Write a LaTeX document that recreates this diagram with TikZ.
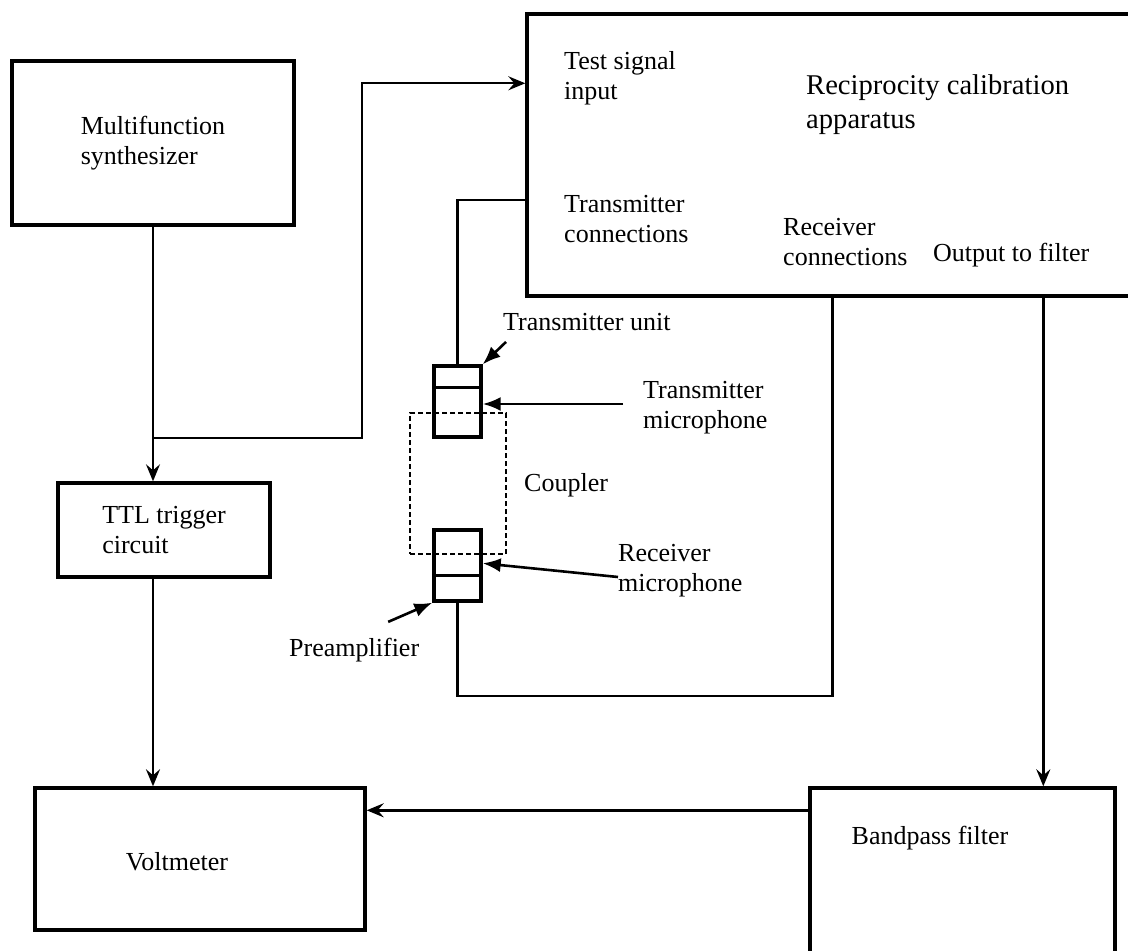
\documentclass[tikz,border=0pt]{standalone}
\usepackage{fontspec}
\setmainfont{Liberation Serif}
\usetikzlibrary{positioning, calc, arrows.meta}

\begin{document}
\begin{tikzpicture}[x=0.5pt, y=-0.5pt, line width=1.2pt, >={Stealth[length=8.5pt, width=7pt, inset=3pt]}, font=\fontsize{13}{15}\selectfont]
        % Define block styles
        \tikzstyle{block} = [rectangle, draw, line width=1.7pt, inner sep=0pt, align=left]
        \tikzstyle{unit} = [rectangle, draw, line width=1.7pt, minimum width=23.5pt, minimum height=35.5pt, inner sep=0pt]
        \tikzstyle{tag} = [inner sep=0pt, align=left, anchor=west]
        \tikzstyle{pointer} = [-{Latex[length=9pt, width=7pt]}, line width=1.3pt]

        \useasboundingbox (0,0) rectangle (1128,951);
        \clip (0,0) rectangle (1128,951);

        % Place nodes
        \node [block, minimum width=141pt, minimum height=82pt] (mfs) at (153,143) {Multifunction\\synthesizer};
        \node [block, minimum width=106pt, minimum height=47pt] (ttl) at (164,530) {TTL trigger\\circuit};
        \node [block, minimum width=165pt, minimum height=71pt, label={[xshift=-11.5pt, yshift=-1.5pt]center:Voltmeter}] (volt) at (200,859) {};
        \node [block, minimum width=306.5pt, minimum height=141pt] (rca) at (833.5,155) {};
        \node [block, minimum width=152.5pt, minimum height=91pt, label={[xshift=-16.25pt, yshift=20.5pt]center:Bandpass filter}] (bpf) at (962.5,879) {};

        % Transducers and coupler
        \node [draw, dashed, dash pattern=on 2.5pt off 1.5pt, line width=0.7pt, minimum width=48pt, minimum height=70.5pt] (coupler) at (458,483.5) {};
        \node [unit] (tunit) at (457.5,401.5) {};
        \node [unit] (runit) at (457.5,565.5) {};
        \draw [line width=1.7pt] ($(tunit.north west)+(0,23)$) -- ($(tunit.north east)+(0,23)$);
        \draw [line width=1.7pt] ($(runit.north west)+(0,47)$) -- ($(runit.north east)+(0,47)$);

        % Texts inside the apparatus
        \node [tag] (testsig) at (563,78) {Test signal\\input};
        \node [tag, font=\fontsize{14.3}{17}\selectfont] (title) at (805,105) {Reciprocity calibration\\apparatus};
        \node [tag] (txconn) at (563,219.5) {Transmitter\\connections};
        \node [tag] (rxconn) at (782,242.5) {Receiver\\connections};
        \node [tag] (outfilt) at (932,255) {Output to filter};

        % Labels round the coupler
        \node [tag] (tulabel) at (502,322) {Transmitter unit};
        \node [tag] (tmlabel) at (642,408) {Transmitter\\microphone};
        \node [tag] (cplabel) at (523,485) {Coupler};
        \node [tag] (rmlabel) at (617,571) {Receiver\\microphone};
        \node [tag] (palabel) at (288,650) {Preamplifier};

        % Ports on the apparatus
        \coordinate (testin) at ($(rca.north west)+(0,71)$);
        \coordinate (txport) at ($(rca.north west)+(0,188)$);
        \coordinate (rxport) at ($(rca.south west)+(307,0)$);
        \coordinate (outport) at ($(rca.south west)+(518,0)$);
        \coordinate (split) at ($(mfs.south)+(0,211)$);
        \coordinate (bpfout) at ($(bpf.north west)+(0,24)$);

        % Draw connections as arrows
        \draw [->, line width=0.7pt] (mfs.south) -- (mfs.south |- ttl.north);
        \draw [->, line width=1pt] (split) -| ($(testin)+(-163,0)$) -- (testin);
        \draw [->] (ttl.south -| split) -- (split |- volt.north);
        \draw [->] (outport) -- (outport |- bpf.north);
        \draw [->] (bpfout) -- (bpfout -| volt.east);
        \draw (txport) -| (tunit.north);
        \draw (runit.south) |- ($(rxport)+(0,398)$) -- (rxport);

        % Pointers to the parts
        \draw [pointer] ($(tulabel.south west)+(4,10)$) -- (tunit.north east);
        \coordinate (tmtail) at ($(tmlabel.west)+(-19,-4)$);
        \draw [pointer] (tmtail) -- (tmtail -| tunit.east);
        \draw [pointer] ($(rmlabel.west)+(1,6)$) -- ($(runit.north east)+(0,35)$);
        \draw [pointer] ($(palabel.north)+(34,-15)$) -- (runit.south west);
    \end{tikzpicture}
\end{document}
